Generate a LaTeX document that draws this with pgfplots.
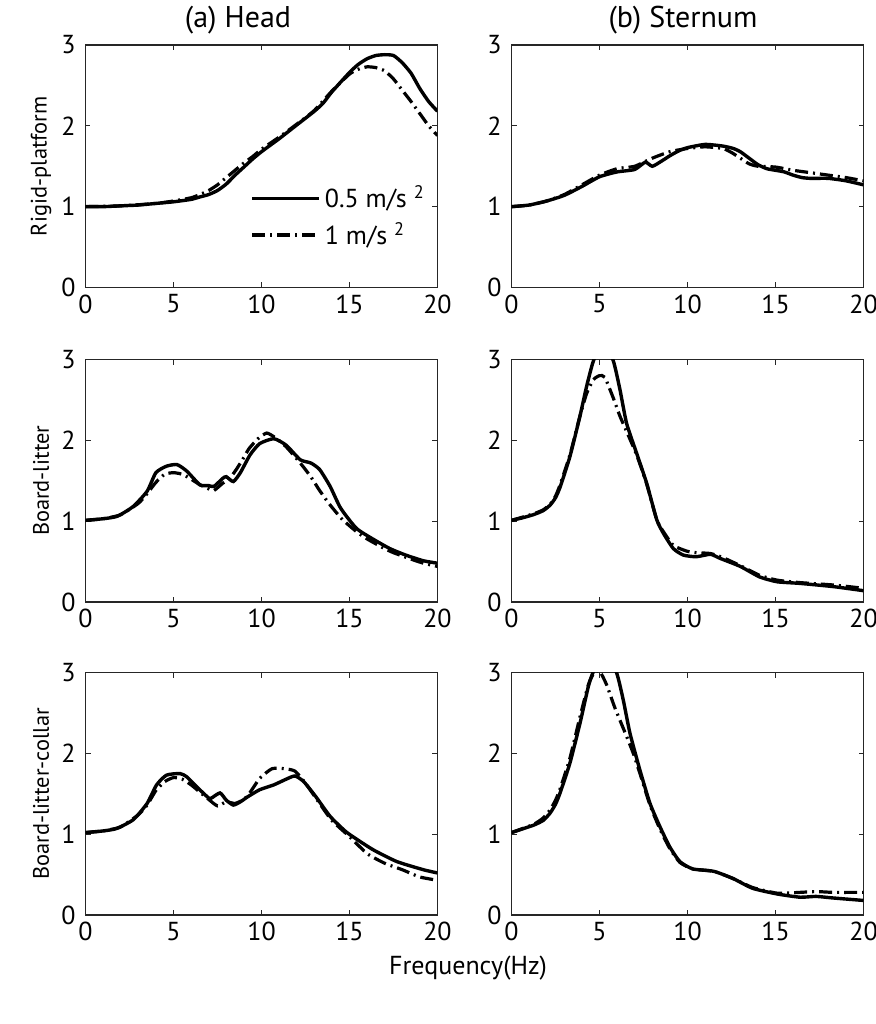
\documentclass[border=0pt]{standalone}
\usepackage{fontspec}
\setmainfont{PT Sans}
\usepackage{pgfplots}
\pgfplotsset{compat=1.18}
\usepackage{pgfplotstable}

% ---------- data ----------
\pgfplotstableread{
x y
0 1.00
1 1.00
2 1.01
3 1.02
4 1.04
5 1.06
6 1.09
6.5 1.12
7 1.15
7.5 1.20
8 1.28
8.5 1.39
9 1.49
9.5 1.59
10 1.68
11 1.84
12 2.01
13 2.18
13.5 2.28
14 2.42
15 2.66
15.5 2.76
16 2.83
16.5 2.87
17 2.88
17.5 2.87
18 2.78
18.5 2.65
19 2.46
19.5 2.30
20 2.18
}\HeadRigidA
\pgfplotstableread{
x y
0 1.00
2 1.01
4 1.04
5 1.07
6 1.11
6.5 1.15
7 1.20
7.5 1.27
8 1.36
8.5 1.45
9 1.54
9.5 1.62
10 1.71
11 1.86
12 2.02
13 2.19
14 2.43
15 2.64
15.5 2.70
16 2.73
16.5 2.72
17 2.68
17.5 2.58
18 2.44
18.5 2.30
19 2.15
19.5 2.00
20 1.88
}\HeadRigidB
\pgfplotstableread{
x y
0 1.00
1 1.02
2 1.07
3 1.14
4 1.25
5 1.37
6 1.43
7 1.46
7.6 1.55
8 1.50
8.5 1.56
9 1.63
9.5 1.69
10 1.73
11 1.77
12 1.75
12.6 1.72
13 1.68
13.5 1.60
14 1.52
14.5 1.47
15 1.45
15.5 1.43
16 1.39
16.5 1.36
17 1.35
18 1.35
19 1.32
20 1.27
}\SternRigidA
\pgfplotstableread{
x y
0 1.00
1 1.02
2 1.07
3 1.15
4 1.27
5 1.39
6 1.47
7 1.50
8 1.60
9 1.68
10 1.72
11 1.74
12 1.72
12.5 1.67
13 1.60
13.5 1.53
14 1.50
15 1.49
16 1.45
17 1.42
18 1.39
19 1.36
20 1.32
}\SternRigidB
\pgfplotstableread{
x y
0 1.01
1 1.03
1.8 1.06
2.7 1.18
3.5 1.37
4 1.60
4.6 1.68
5.2 1.70
5.75 1.62
6.5 1.45
7 1.44
7.3 1.43
7.8 1.53
8 1.55
8.4 1.49
8.8 1.60
9.35 1.82
9.9 1.96
10.7 2.02
11.4 1.94
12.2 1.76
12.8 1.72
13.3 1.64
13.9 1.43
14.5 1.16
15.4 0.91
16.4 0.77
17.3 0.66
18.2 0.58
19.2 0.51
20 0.48
}\HeadBoardA
\pgfplotstableread{
x y
0 1.01
1 1.03
2 1.08
3 1.22
3.5 1.34
4 1.48
4.5 1.58
5 1.60
5.5 1.58
6 1.52
6.5 1.45
7 1.40
7.3 1.38
7.8 1.47
8.2 1.53
8.6 1.65
9 1.79
9.3 1.90
9.8 2.02
10.3 2.09
10.8 2.03
11.4 1.92
12.2 1.72
12.8 1.55
13.3 1.38
13.9 1.20
14.6 1.02
15.4 0.87
16 0.78
17 0.66
17.5 0.61
18.5 0.53
19.2 0.48
20 0.44
}\HeadBoardB
\pgfplotstableread{
x y
0 1.01
0.6 1.04
1.24 1.08
1.8 1.13
2.2 1.20
2.5 1.29
2.76 1.42
3.32 1.80
3.89 2.30
4.27 2.67
4.65 2.98
5.2 3.25
5.79 2.98
6.16 2.63
6.54 2.21
7.11 1.84
7.68 1.47
8.25 1.02
8.63 0.85
9.2 0.66
9.77 0.58
10.5 0.56
11.3 0.59
11.85 0.54
13 0.44
14.1 0.31
15.1 0.25
16.4 0.23
18.3 0.19
20 0.14
}\SternBoardA
\pgfplotstableread{
x y
0 1.01
1.24 1.09
1.8 1.14
2.2 1.21
2.5 1.31
2.76 1.45
3.32 1.82
3.89 2.30
4.27 2.58
4.65 2.75
5.0 2.80
5.3 2.78
5.79 2.52
6.16 2.30
6.54 2.11
7.11 1.82
7.68 1.46
8.25 1.02
8.63 0.87
9.2 0.70
9.95 0.63
10.5 0.61
11.3 0.60
12 0.55
13 0.45
14.1 0.33
15.1 0.27
16.4 0.24
18.3 0.21
20 0.17
}\SternBoardB
\pgfplotstableread{
x y
0 1.02
1 1.04
1.77 1.07
2.72 1.18
3.5 1.38
4.04 1.61
4.6 1.73
5.37 1.75
5.75 1.71
6.3 1.59
6.88 1.47
7.1 1.44
7.64 1.51
8.0 1.42
8.4 1.36
8.8 1.40
9.2 1.46
9.9 1.55
10.7 1.61
11.4 1.68
11.9 1.72
12.4 1.65
13.1 1.46
13.9 1.22
14.8 1.03
15.6 0.91
16.4 0.80
17.7 0.66
19.2 0.56
20 0.52
}\HeadCollarA
\pgfplotstableread{
x y
0 1.02
1 1.04
2 1.09
3 1.24
3.5 1.36
4 1.54
4.5 1.65
5 1.70
5.5 1.68
6 1.61
6.5 1.52
7 1.43
7.5 1.35
8 1.40
8.5 1.38
9 1.43
9.3 1.50
9.9 1.69
10.6 1.81
11.3 1.81
11.9 1.78
12.5 1.63
13.3 1.38
14 1.17
15 0.97
16 0.76
17 0.64
18 0.56
19 0.47
20 0.43
}\HeadCollarB
\pgfplotstableread{
x y
0 1.02
1.24 1.11
1.8 1.17
2.19 1.26
2.5 1.37
2.76 1.51
3.32 1.88
3.89 2.37
4.37 2.83
4.65 3.01
5.3 3.30
5.98 2.99
6.35 2.66
6.73 2.25
7.3 1.79
7.87 1.38
8.44 1.09
9.0 0.84
9.57 0.66
10.3 0.57
11.5 0.54
12.6 0.45
13.7 0.33
15.1 0.26
16.4 0.22
17.3 0.23
18.3 0.21
20 0.18
}\SternCollarA
\pgfplotstableread{
x y
0 1.02
1.24 1.12
1.8 1.20
2.19 1.30
2.5 1.42
2.76 1.56
3.32 1.94
3.89 2.45
4.37 2.85
4.7 3.00
5.0 3.02
5.4 2.85
5.88 2.56
6.54 2.21
6.92 2.00
7.3 1.75
7.87 1.36
8.44 1.06
9.0 0.82
9.57 0.65
10.3 0.57
11.5 0.54
12.6 0.45
13.7 0.34
15.1 0.27
16.4 0.28
17.3 0.29
18.3 0.28
20 0.28
}\SternCollarB

\newcommand{\tfont}{\fontsize{13}{15}\selectfont}

\pgfplotsset{
  panel/.style={
    scale only axis, width=176pt, height=121.25pt, anchor=south west,
    xmin=0, xmax=20, ymin=0, ymax=3,
    xtick={0,5,10,15,20}, ytick={0,1,2,3},
    tick align=inside, tickpos=both, major tick length=2.5pt,
    axis line style={line width=0.6pt, black!85},
    tick style={line width=0.5pt, black!85},
    ticklabel style={font=\tfont},
    yticklabel style={xshift=-1.5pt},
    /pgf/number format/assume math mode=true,
    every axis y label/.style={at={(axis description cs:-0.126,0.5)}, rotate=90,
      anchor=center, font=\fontsize{11.2}{13}\selectfont},
  },
  solidc/.style={line width=1.7pt, black, smooth, tension=0.35},
  dashc/.style={line width=1.6pt, black, smooth, tension=0.35,
    dash pattern=on 6.5pt off 2.5pt on 1pt off 2.5pt},
}

\begin{document}
\begin{tikzpicture}
% ---- row 1 ----
\begin{axis}[panel, at={(42.75pt,368.25pt)}, ylabel={Rigid-platform},
  legend style={draw=none, fill=none, at={(axis cs:9.35,1.31)}, anchor=north west,
    font=\tfont, row sep=2pt, inner sep=0pt},
  legend cell align=left,
  legend image code/.code={\draw[#1] (0pt,0pt) -- (33.5pt,0pt);}]
\addplot[solidc] table {\HeadRigidA};
\addlegendentry{0.5 m/s \textsuperscript{2}}
\addplot[dashc] table {\HeadRigidB};
\addlegendentry{1 m/s \textsuperscript{2}}
\end{axis}
\begin{axis}[panel, at={(255.75pt,368.25pt)}]
\addplot[solidc] table {\SternRigidA};
\addplot[dashc] table {\SternRigidB};
\end{axis}
% ---- row 2 ----
\begin{axis}[panel, at={(42.75pt,211pt)}, ylabel={Board-litter}]
\addplot[solidc] table {\HeadBoardA};
\addplot[dashc] table {\HeadBoardB};
\end{axis}
\begin{axis}[panel, at={(255.75pt,211pt)}]
\addplot[solidc] table {\SternBoardA};
\addplot[dashc] table {\SternBoardB};
\end{axis}
% ---- row 3 ----
\begin{axis}[panel, at={(42.75pt,54.5pt)}, ylabel={Board-litter-collar}]
\addplot[solidc] table {\HeadCollarA};
\addplot[dashc] table {\HeadCollarB};
\end{axis}
\begin{axis}[panel, at={(255.75pt,54.5pt)}]
\addplot[solidc] table {\SternCollarA};
\addplot[dashc] table {\SternCollarB};
\end{axis}
% ---- titles and common label ----
\node[font=\fontsize{15}{18}\selectfont, anchor=center] at (119pt,502pt) {(a) Head};
\node[font=\fontsize{15}{18}\selectfont, anchor=center] at (341.5pt,502pt) {(b) Sternum};
\node[font=\tfont, anchor=center] at (234pt,28pt) {Frequency(Hz)};
\pgfresetboundingbox
\useasboundingbox (0pt,0pt) rectangle (437.5pt,512pt);
\end{tikzpicture}
\end{document}
